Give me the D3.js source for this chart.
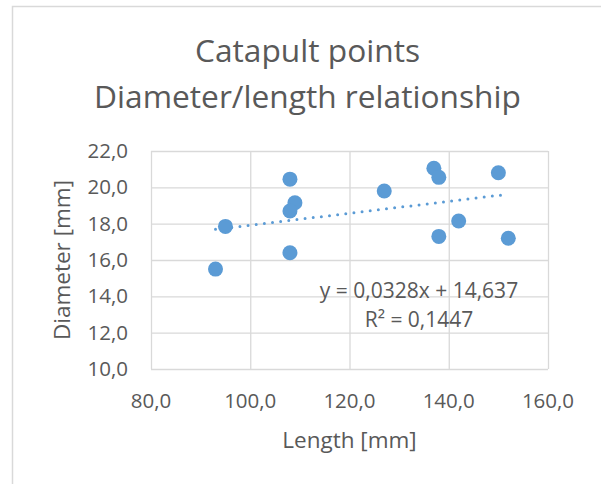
<!DOCTYPE html>
<html>
<head>
<meta charset="utf-8">
<script src="https://cdn.jsdelivr.net/npm/d3@7"></script>
<style>
  body { margin: 0; background: #fff; }
  text { font-family: "Open Sans", sans-serif; fill: #595959; }
</style>
</head>
<body>
<svg id="chart" width="601" height="484"></svg>
<script>
// catapult points, length vs diameter (mm)
let lengths =   [93, 95, 108, 109, 108, 108, 127, 137, 138, 138, 142, 150, 152];
let diameters = [15.5, 17.85, 20.45, 19.15, 18.7, 16.4, 19.8, 21.05, 20.55, 17.3, 18.15, 20.8, 17.2];

let xTicks = [80, 100, 120, 140, 160];
let yTicks = [10, 12, 14, 16, 18, 20, 22];

// linear trendline as reported
let slope = 0.0328;
let intercept = 14.637;
let trendLabel = ['y = 0,0328x + 14,637', 'R\u00b2 = 0,1447'];
let titleLines = ['Catapult points', 'Diameter/length relationship'];

let svg = d3.select('#chart');
let fmt = d => d.toFixed(1).replace('.', ',');

let plotL = 151, plotR = 548, plotT = 151, plotB = 369;

let x = d3.scaleLinear().domain([80, 160]).range([plotL, plotR]);
let y = d3.scaleLinear().domain([10, 22]).range([plotB, plotT]);

// outer chart border (runs off the right/bottom edge)
svg.append('rect')
  .attr('x', 12.5).attr('y', 6.5)
  .attr('width', 800).attr('height', 800)
  .attr('fill', 'none')
  .attr('stroke', '#d9d9d9')
  .attr('stroke-width', 1.5);

// title
svg.append('g').selectAll('text')
  .data(titleLines)
  .enter()
  .append('text')
  .attr('x', 307.5)
  .attr('y', (d, i) => 62 + i * 46)
  .attr('text-anchor', 'middle')
  .style('font-size', '31.7px')
  .text(d => d);

// grid
svg.append('g')
  .attr('transform', `translate(0,${plotB})`)
  .call(d3.axisBottom(x).tickValues(xTicks).tickSize(-(plotB - plotT)).tickFormat(''))
  .call(g => g.select('.domain').remove())
  .call(g => g.selectAll('line').attr('stroke', '#d9d9d9').attr('stroke-width', 1.3));

svg.append('g')
  .attr('transform', `translate(${plotL},0)`)
  .call(d3.axisLeft(y).tickValues(yTicks).tickSize(-(plotR - plotL)).tickFormat(''))
  .call(g => g.select('.domain').remove())
  .call(g => g.selectAll('line').attr('stroke', '#d9d9d9').attr('stroke-width', 1.3));

// tick labels
svg.append('g').selectAll('text')
  .data(xTicks)
  .enter()
  .append('text')
  .attr('x', d => x(d))
  .attr('y', 408)
  .attr('text-anchor', 'middle')
  .style('font-size', '20.5px')
  .text(fmt);

svg.append('g').selectAll('text')
  .data(yTicks)
  .enter()
  .append('text')
  .attr('x', plotL - 23)
  .attr('y', d => y(d) + 7)
  .attr('text-anchor', 'end')
  .style('font-size', '20.5px')
  .text(fmt);

// axis titles
svg.append('text')
  .attr('x', 349.5)
  .attr('y', 448)
  .attr('text-anchor', 'middle')
  .style('font-size', '22.5px')
  .text('Length [mm]');

svg.append('text')
  .attr('transform', `translate(70,${(plotT + plotB) / 2}) rotate(-90)`)
  .attr('text-anchor', 'middle')
  .style('font-size', '22.5px')
  .text('Diameter [mm]');

// trendline
let xMin = d3.min(lengths), xMax = d3.max(lengths);
svg.append('line')
  .attr('x1', x(xMin)).attr('y1', y(slope * xMin + intercept))
  .attr('x2', x(xMax)).attr('y2', y(slope * xMax + intercept))
  .attr('stroke', '#5b9bd5')
  .attr('stroke-width', 3)
  .attr('stroke-linecap', 'round')
  .attr('stroke-dasharray', '0 8.2');

// points
svg.append('g').selectAll('circle')
  .data(lengths)
  .enter()
  .append('circle')
  .attr('cx', d => x(d))
  .attr('cy', (d, i) => y(diameters[i]))
  .attr('r', 7.5)
  .attr('fill', '#5b9bd5');

// equation label
svg.append('g').selectAll('text')
  .data(trendLabel)
  .enter()
  .append('text')
  .attr('x', 419)
  .attr('y', (d, i) => 298 + i * 29)
  .attr('text-anchor', 'middle')
  .style('font-size', '21px')
  .text(d => d);
</script>
</body>
</html>
